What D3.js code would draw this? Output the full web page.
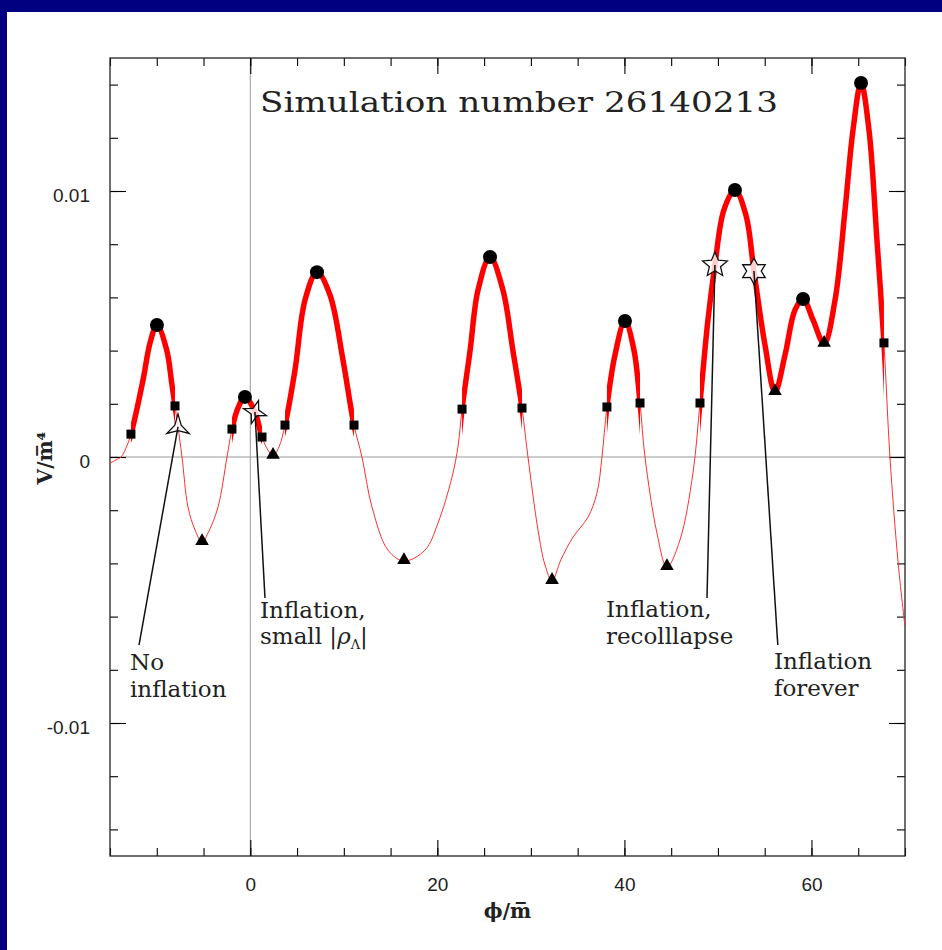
<!DOCTYPE html>
<html><head><meta charset="utf-8">
<script src="https://cdn.jsdelivr.net/npm/d3@7"></script>
<style>body{margin:0;background:#000080;overflow:hidden}svg{display:block}</style>
</head><body>
<svg id="c" width="942" height="950"></svg>
<script>
// ---- data ----
const curvePhi = [-15,-14.36,-13.82,-13.29,-12.76,-11.47,-10.72,-9.98,-8.94,-8.40,-8.05,-7.73,-7.30,-6.66,-5.91,-5.16,-4.42,-3.45,-2.49,-1.96,-1.32,-0.57,0.50,1.25,1.89,2.43,3.07,3.71,4.78,5.85,7.13,8.52,9.91,11.09,11.94,13.01,14.72,16.43,18.68,20.07,21.57,22.2,22.64,23.5,24.35,25.63,27.01,28.08,29.05,29.69,30.76,31.51,32.26,33.2,34.51,36.11,37.07,37.6,38.13,38.99,40.06,41.02,41.67,42.2,43.48,44.55,45.94,47.33,48.08,48.93,49.68,50.64,51.82,52.99,53.85,55.03,56.1,57.17,58.24,59.1,60.17,61.35,62.52,63.59,64.44,65.3,66.15,67.0,67.75,68.39,69.24,70];
const curveV = [-0.00023,-0.00011,0,0.00034,0.00086,0.00289,0.00429,0.00496,0.00402,0.00278,0.00192,0.00113,0,-0.00188,-0.00274,-0.0032,-0.00278,-0.00188,0,0.00105,0.00184,0.00226,0.00169,0.00075,0.00026,0.00004,0.00038,0.0012,0.00327,0.0059,0.00695,0.00609,0.00365,0.0012,0,-0.00188,-0.0035,-0.00391,-0.0035,-0.00248,-0.00075,0.00038,0.0018,0.004,0.00628,0.00752,0.00628,0.004,0.00184,0,-0.00274,-0.00406,-0.00466,-0.00387,-0.00301,-0.00226,-0.00135,0,0.00188,0.00383,0.00511,0.00402,0.00203,0,-0.00286,-0.00414,-0.00312,-0.0006,0.00203,0.00515,0.00722,0.00929,0.01004,0.0091,0.00699,0.00421,0.00244,0.00383,0.00553,0.00594,0.00515,0.00425,0.0059,0.00929,0.01229,0.01406,0.01229,0.00816,0.00429,0,-0.00387,-0.00639];
const maxPhi = [-9.98,-0.57,7.13,25.63,40.06,51.82,59.1,65.3];
const maxV   = [0.00496,0.00226,0.00695,0.00752,0.00511,0.01004,0.00594,0.01406];
const minPhi = [-5.16,2.43,16.43,32.26,44.55,56.1,61.35];
const minV   = [-0.0032,0.00004,-0.00391,-0.00466,-0.00414,0.00244,0.00425];
const sqPhi  = [-12.76,-8.05,-1.96,1.25,3.71,11.09,22.64,29.05,38.13,41.67,48.08,67.75];
const sqV    = [0.00086,0.00192,0.00105,0.00075,0.0012,0.0012,0.0018,0.00184,0.00188,0.00203,0.00203,0.00429];
const starPhi = [-7.73,0.50,49.68,53.85];
const starV   = [0.00113,0.00169,0.00722,0.00699];
const starArms = [3,4,5,6];
const noteLines = [["No","inflation"],["Inflation,","small |ρ|"],["Inflation,","recolllapse"],["Inflation","forever"]];
const xMajorTicks = [0,20,40,60];
const yMajorTicks = [-0.01,0,0.01];
const yTickLabels = ["-0.01","0","0.01"];
const title = "Simulation number 26140213";

// ---- layout ----
const svg = d3.select("#c");
const L=110,R=905,T=58,B=856;
const x = d3.scaleLinear([-15,70],[L,R]);
const y = d3.scaleLinear([-0.015,0.015],[B,T]);
const noteLabelPhi=[-12.86,1.04,38.03,55.99], noteLabelV=[-0.00801,-0.00605,-0.00602,-0.00797];
const noteEndPhi=[-11.9,1.57,48.83,56.4], noteEndV=[-0.00707,-0.0053,-0.0053,-0.00707];

svg.append("rect").attr("x",7).attr("y",12).attr("width",935).attr("height",938).attr("fill","#fff");

svg.append("line").attr("x1",x(0)).attr("x2",x(0)).attr("y1",T).attr("y2",B).attr("stroke","#999").attr("stroke-width",1);
svg.append("line").attr("x1",L).attr("x2",R).attr("y1",y(0)).attr("y2",y(0)).attr("stroke","#999").attr("stroke-width",1);

const xMinor = d3.range(-15,71,5), yMinor = d3.range(-7,8).map(d=>d*0.002);
function ax(gen, tx, ty){ const g=svg.append("g").attr("transform",`translate(${tx},${ty})`).call(gen); g.select(".domain").remove(); g.selectAll("line").attr("stroke","#000").attr("stroke-width",1.1); return g;}
ax(d3.axisBottom(x).tickValues(xMinor).tickSize(-8).tickFormat(""),0,B);
ax(d3.axisTop(x).tickValues(xMinor).tickSize(-8).tickFormat(""),0,T);
ax(d3.axisLeft(y).tickValues(yMinor).tickSize(-8).tickFormat(""),L,0);
ax(d3.axisRight(y).tickValues(yMinor).tickSize(-8).tickFormat(""),R,0);
const gxb = ax(d3.axisBottom(x).tickValues(xMajorTicks).tickSize(-16).tickPadding(18).tickFormat(d3.format("d")),0,B);
ax(d3.axisTop(x).tickValues(xMajorTicks).tickSize(-16).tickFormat(""),0,T);
const gyl = ax(d3.axisLeft(y).tickValues(yMajorTicks).tickSize(-16).tickPadding(20).tickFormat((d,i)=>yTickLabels[i]),L,0);
ax(d3.axisRight(y).tickValues(yMajorTicks).tickSize(-16).tickFormat(""),R,0);
[gxb,gyl].forEach(g=>g.selectAll("text").attr("font-family","Liberation Sans, Arial, sans-serif").attr("font-size",19).attr("fill","#222"));
gyl.selectAll("text").attr("dy","0.55em");
gxb.selectAll("text").attr("dy","0.9em");
svg.append("rect").attr("x",L).attr("y",T).attr("width",R-L).attr("height",B-T).attr("fill","none").attr("stroke","#222").attr("stroke-width",1.3);

const pts = curvePhi.map((p,i)=>[x(p),y(curveV[i])]);
const line = d3.line().curve(d3.curveCatmullRom.alpha(0.5));
const defs = svg.append("defs");
const clip = defs.append("clipPath").attr("id","plotclip");
clip.append("rect").attr("x",L).attr("y",T).attr("width",R-L).attr("height",B-T);
const thick = defs.append("clipPath").attr("id","thickclip");
for(let i=0;i<sqPhi.length;i+=2){ thick.append("rect").attr("x",x(sqPhi[i])).attr("y",T).attr("width",x(sqPhi[i+1])-x(sqPhi[i])).attr("height",B-T); }
svg.append("path").attr("d",line(pts)).attr("fill","none").attr("stroke","#ff3030").attr("stroke-width",1).attr("clip-path","url(#plotclip)");
svg.append("path").attr("d",line(pts)).attr("fill","none").attr("stroke","#ff0000").attr("stroke-width",5.5).attr("clip-path","url(#thickclip)");

svg.selectAll(".mx").data(maxPhi).join("circle").attr("cx",d=>x(d)).attr("cy",(d,i)=>y(maxV[i])).attr("r",7).attr("fill","#000");
const tri = d3.symbol(d3.symbolTriangle, 80);
svg.selectAll(".mn").data(minPhi).join("path").attr("d",tri).attr("transform",(d,i)=>`translate(${x(d)},${y(minV[i])-1})`).attr("fill","#000");
svg.selectAll(".sq").data(sqPhi).join("rect").attr("x",d=>x(d)-4.5).attr("y",(d,i)=>y(sqV[i])-4.5).attr("width",9).attr("height",9).attr("fill","#000");

function starPath(n,Ro,Ri,rot){ const p=[]; for(let k=0;k<2*n;k++){const a=rot+Math.PI*k/n - Math.PI/2; const r=k%2?Ri:Ro; p.push([r*Math.cos(a),r*Math.sin(a)]);} return "M"+p.map(q=>q.join(",")).join("L")+"Z"; }
const starR=[13,12,13,13], starIn=[0.28,0.35,0.45,0.56], starRot=[0,0.3,0,0];
starPhi.forEach((p,i)=>{
  const cx=x(p), cy=y(starV[i]);
  svg.append("path").attr("d",starPath(starArms[i],starR[i],starR[i]*starIn[i],starRot[i])).attr("transform",`translate(${cx},${cy})`).attr("fill","#fff").attr("fill-opacity",0.8).attr("stroke","#111").attr("stroke-width",1.3);
  svg.append("line").attr("x1",cx).attr("y1",cy).attr("x2",x(noteEndPhi[i])).attr("y2",y(noteEndV[i])).attr("stroke","#111").attr("stroke-width",1.5);
  const t = svg.append("text").attr("font-family","DejaVu Serif, serif").attr("font-size",23).attr("fill","#222");
  noteLines[i].forEach((s,j)=>{
    const ts = t.append("tspan").attr("x",x(noteLabelPhi[i])).attr("y",y(noteLabelV[i])+j*26.5);
    if(s.indexOf("ρ")>=0){ ts.text("small |"); t.append("tspan").attr("font-style","italic").text("ρ"); t.append("tspan").attr("font-size",13).attr("dy",5).text("Λ"); t.append("tspan").attr("dy",-5).text("|"); }
    else ts.text(s);
  });
});

svg.append("text").attr("x",260).attr("y",112).attr("font-family","DejaVu Serif, serif").attr("font-size",28).attr("fill","#222").attr("textLength",518).attr("lengthAdjust","spacingAndGlyphs").text(title);
svg.append("text").attr("x",(L+R)/2).attr("y",918).attr("text-anchor","middle").attr("font-family","DejaVu Serif, serif").attr("font-size",20).attr("font-weight","bold").attr("fill","#222").text("ϕ/m\u0305");
svg.append("text").attr("transform","translate(52,458) rotate(-90)").attr("text-anchor","middle").attr("font-family","DejaVu Serif, serif").attr("font-size",20).attr("font-weight","bold").attr("fill","#222").text("V/m\u0305\u2074");
</script>
</body></html>
